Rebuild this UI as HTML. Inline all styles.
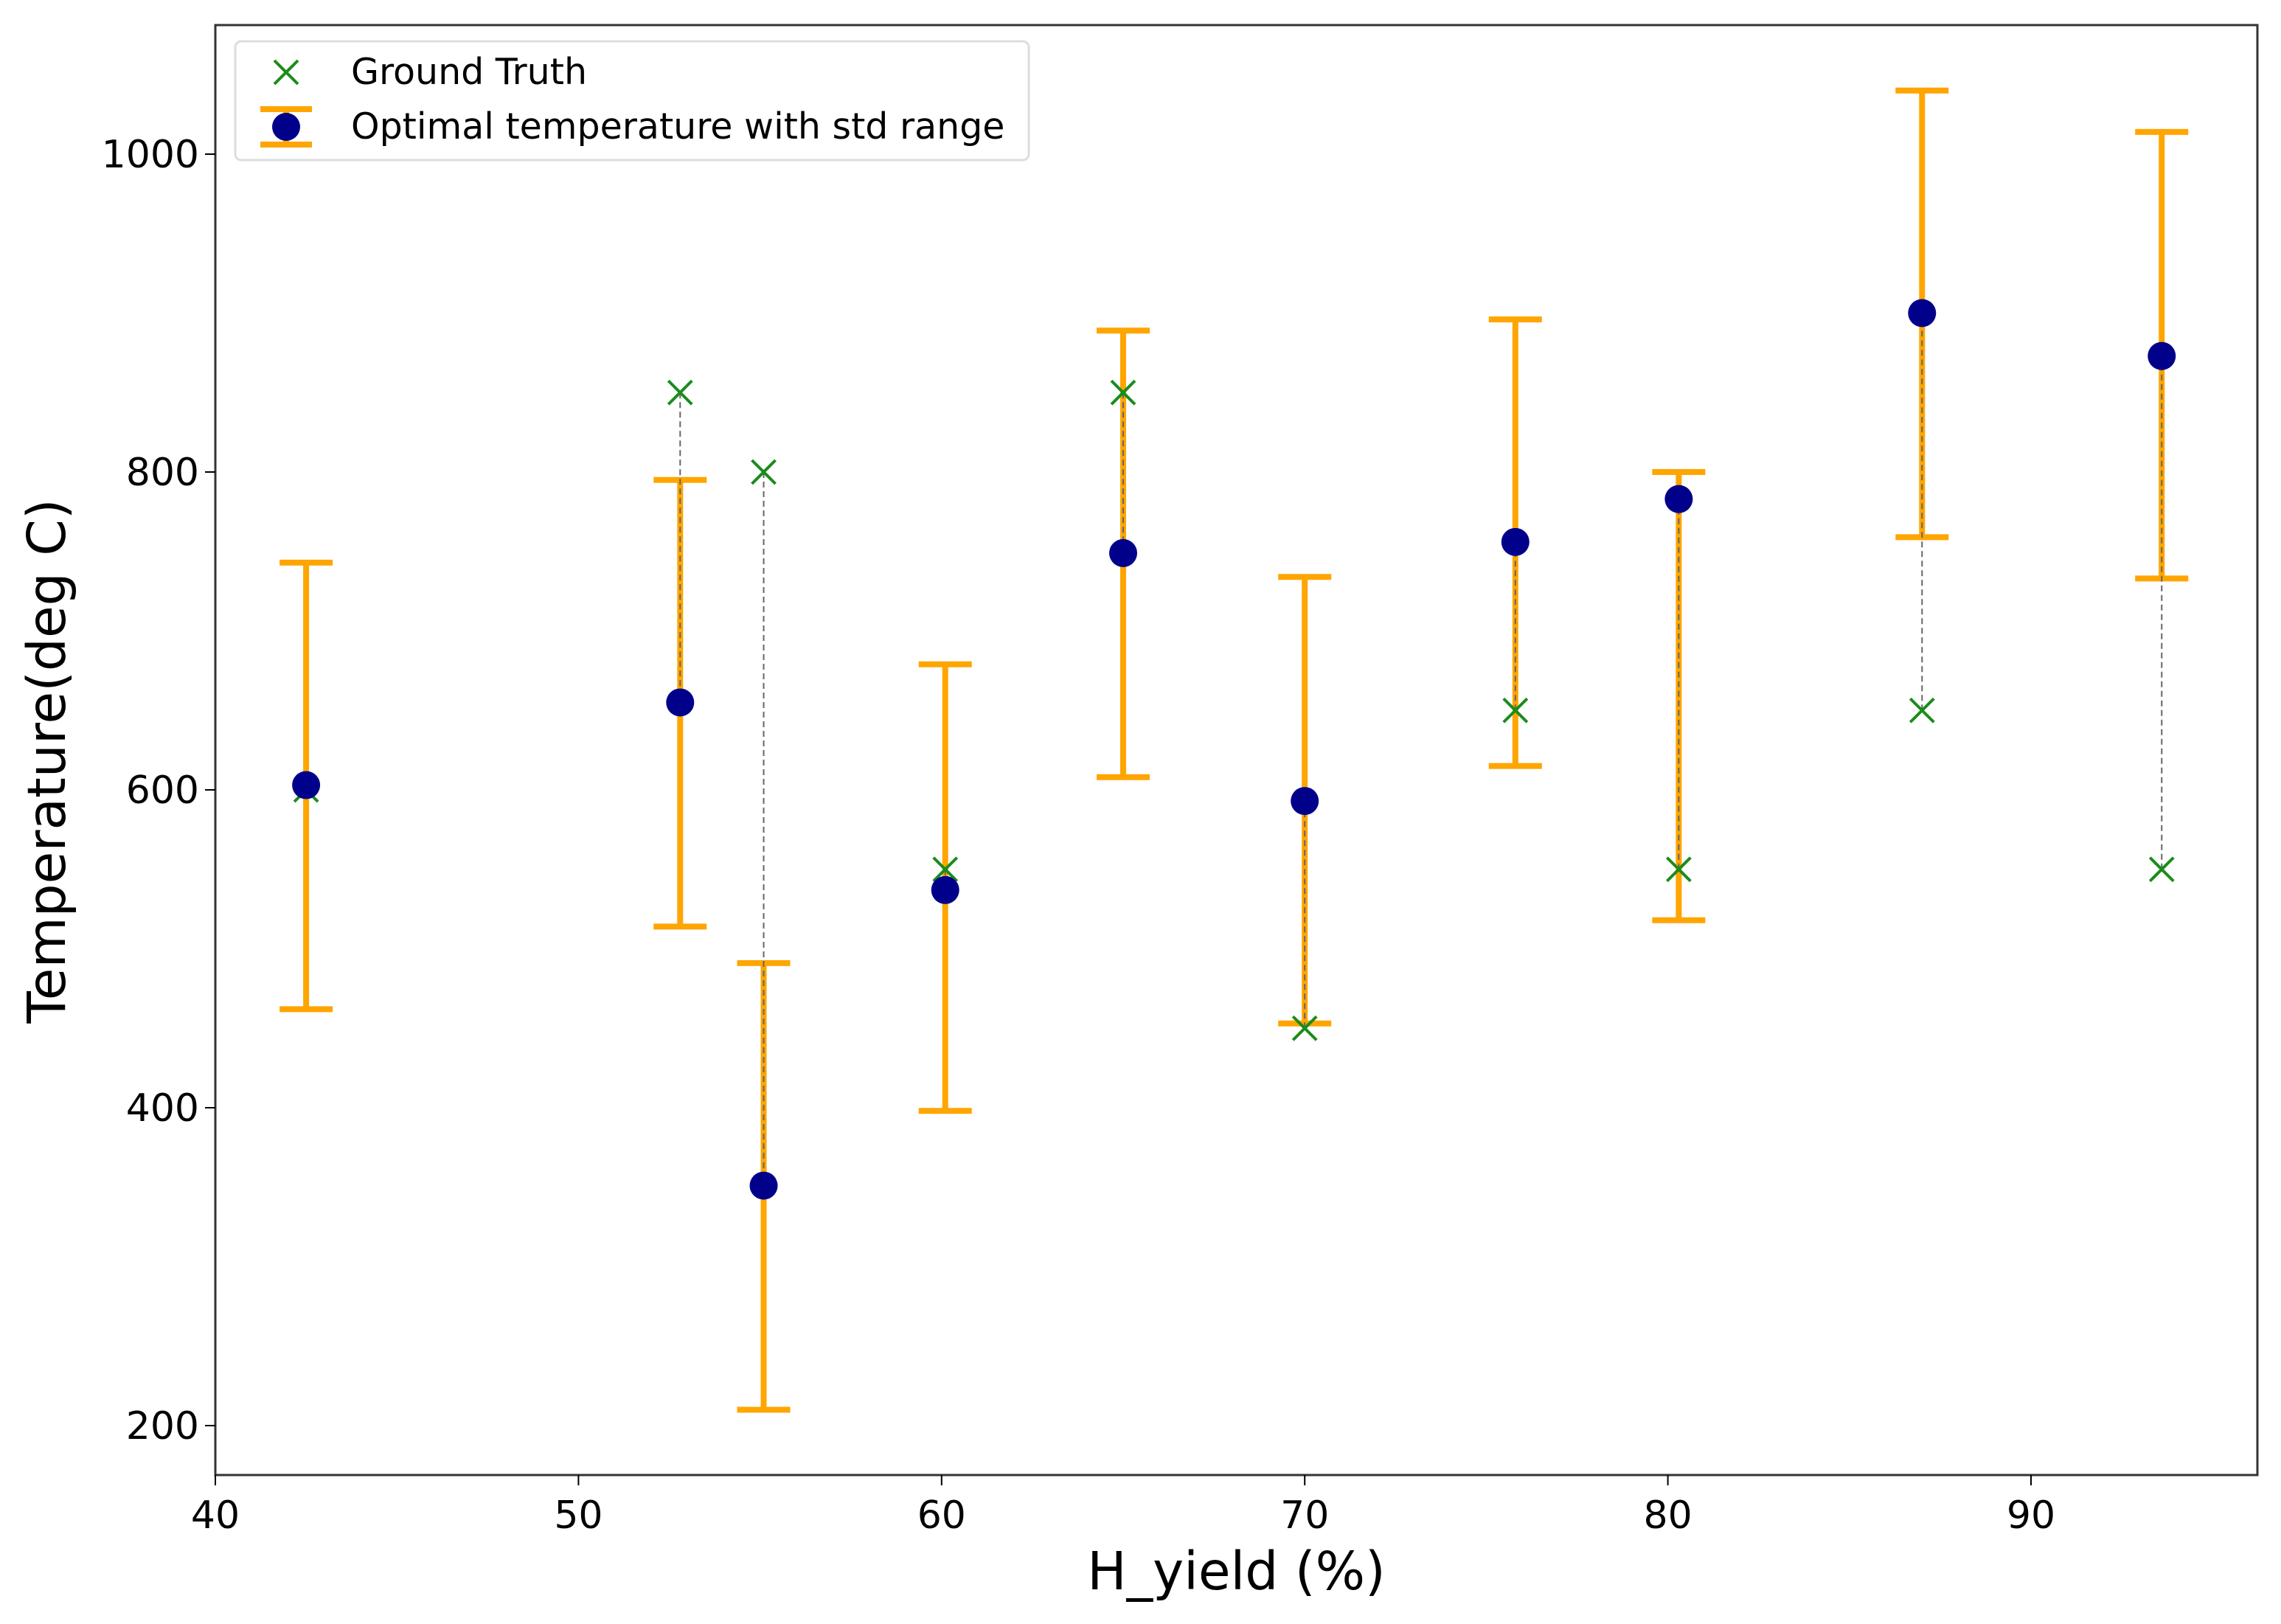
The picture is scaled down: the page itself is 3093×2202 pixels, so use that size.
<!DOCTYPE html>
<html><head><meta charset="utf-8"><style>
body{margin:0;background:#fff}
text{font-family:"DejaVu Sans","Liberation Sans",sans-serif;fill:#000}
</style></head><body>
<svg id="chart" width="3093" height="2197" viewBox="0 0 3093 2197" xmlns="http://www.w3.org/2000/svg">
<g id="marks"></g>
<g id="axes"></g>
</svg>
<script>
const xs=[42.5,52.8,55.1,60.1,65.0,70.0,75.8,80.3,87.0,93.6];
const opt=[603,655,351,537,749,593,756,783,900,873];
const errHi=[743,795,491,679,889,734,896,800,1040,1014];
const errLo=[462,514,210,398,608,453,615,518,759,733];
const truth=[600,850,800,550,850,450,650,550,650,550];
const xTicks=[40,50,60,70,80,90];
const yTicks=[200,400,600,800,1000];
const L=292,R=3061,T=34,B=2000;
const X=v=>L+(v-40)*49.24;
const Y=v=>1933-(v-200)*2.155;
const NS='http://www.w3.org/2000/svg';
function mk(p,tag,at){const e=document.createElementNS(NS,tag);for(const k in at)e.setAttribute(k,at[k]);p.appendChild(e);return e;}
const m=document.getElementById('marks'),a=document.getElementById('axes');
xs.forEach((x,i)=>{
 const cx=X(x);
 let e=mk(m,'path',{d:`M${cx},${Y(errHi[i])}V${Y(errLo[i])}M${cx-36},${Y(errHi[i])}H${cx+36}M${cx-36},${Y(errLo[i])}H${cx+36}`,stroke:'#ffa500','stroke-width':8,fill:'none'});
 
 let d=mk(m,'line',{x1:cx,x2:cx,y1:Y(truth[i]),y2:Y(opt[i]),stroke:'#666','stroke-width':2,'stroke-dasharray':'8,5'});
 
 const gy=Y(truth[i]);
 let g=mk(m,'path',{d:`M${cx-16},${gy-16}L${cx+16},${gy+16}M${cx-16},${gy+16}L${cx+16},${gy-16}`,stroke:'#1a8c1a','stroke-width':4});
 
 let c=mk(m,'circle',{cx:cx,cy:Y(opt[i]),r:19,fill:'#00008b'});
 
});
let fr=mk(a,'rect',{x:L,y:T,width:R-L,height:B-T,fill:'none',stroke:'#333','stroke-width':3});

xTicks.forEach(t=>{
 const x=X(t);
 let l=mk(a,'line',{x1:x,x2:x,y1:B,y2:B+14,stroke:'#000','stroke-width':2});
 
 let tx=mk(a,'text',{x:x,y:B+72,'text-anchor':'middle','font-size':52});tx.textContent=t;
 
});
yTicks.forEach(t=>{
 const y=Y(t);
 let l=mk(a,'line',{x1:L-14,x2:L,y1:y,y2:y,stroke:'#000','stroke-width':2});
 
 let tx=mk(a,'text',{x:L-22,y:y+18,'text-anchor':'end','font-size':52});tx.textContent=t;
 
});
let xl=mk(a,'text',{x:(L+R)/2,y:2155,'text-anchor':'middle','font-size':71});xl.textContent='H_yield (%)';

let yl=mk(a,'text',{x:0,y:0,'text-anchor':'middle','font-size':71,transform:`translate(88,${(T+B)/2+15}) rotate(-90)`});yl.textContent='Temperature(deg C)';

const lg=mk(a,'g',{});

mk(lg,'rect',{x:319,y:56,width:1076,height:161,rx:8,fill:'#fff',stroke:'#ddd','stroke-width':3});
mk(lg,'path',{d:'M372,82L404,114M372,114L404,82',stroke:'#1a8c1a','stroke-width':4});
let t1=mk(lg,'text',{x:476,y:114,'font-size':49});t1.textContent='Ground Truth';

mk(lg,'path',{d:'M388,148V196M353,148H423M353,196H423',stroke:'#ffa500','stroke-width':8,fill:'none'});
mk(lg,'circle',{cx:388,cy:172,r:19,fill:'#00008b'});
let t2=mk(lg,'text',{x:476,y:188,'font-size':49});t2.textContent='Optimal temperature with std range';

</script>
</body></html>
